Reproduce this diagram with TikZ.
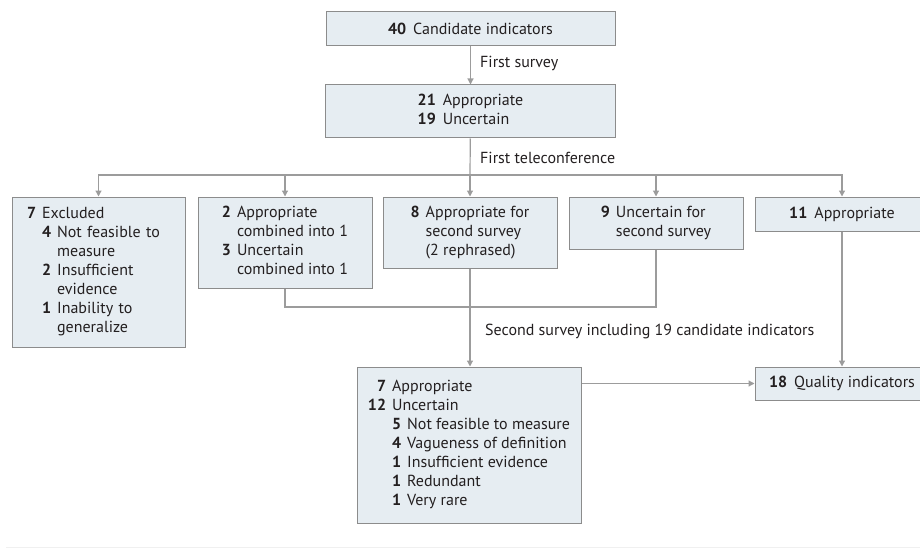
\documentclass[tikz,border=0pt]{standalone}
\usepackage{fontspec}
\setmainfont{PT Sans}
\usetikzlibrary{arrows.meta}
\definecolor{boxfill}{HTML}{E6EDF2}
\definecolor{boxline}{HTML}{8C8C8C}
\definecolor{linkline}{HTML}{9C9C9C}
\definecolor{ink}{HTML}{231F20}
\newcommand\nb[1]{\textbf{#1}}

\begin{document}
\begin{tikzpicture}[
  x=1pt, y=-1pt,
  font=\fontsize{16}{19}\selectfont, text=ink,
  box/.style={draw=boxline, fill=boxfill, line width=1pt, inner sep=0pt, align=center},
  link/.style={draw=linkline, line width=1.2pt},
  arr/.style={link, -{Triangle[length=6pt, width=6pt]}},
  lbl/.style={anchor=west, inner sep=0pt}
]
  \useasboundingbox (0,0) rectangle (920,548);

  \node[box, minimum width=289pt, minimum height=34pt] (cand) at (470.5,29)
    {\nb{40}\hspace{7pt}Candidate indicators};
  \node[box, minimum width=290pt, minimum height=53pt] (first) at (470.5,111.5)
    {\begin{tabular}{@{}r@{\hspace{7pt}}l@{}}\nb{21} & Appropriate\\ \nb{19} & Uncertain\end{tabular}};

  \node[box, minimum width=173pt, minimum height=150pt, text width=163pt, align=left] (excl) at (98.5,272)
    {\hspace*{10pt}\begin{tabular}{@{}r@{\hspace{6pt}}r@{\hspace{6pt}}l@{}}
      \nb{7} & \multicolumn{2}{@{}l@{}}{Excluded}\\
      & \nb{4} & Not feasible to\\
      & & measure\\
      & \nb{2} & Insufficient\\
      & & evidence\\
      & \nb{1} & Inability to\\
      & & generalize
    \end{tabular}};
  \node[box, minimum width=174pt, minimum height=91pt] (comb) at (285,242.5)
    {\begin{tabular}{@{}r@{\hspace{6pt}}l@{}}
      \nb{2} & Appropriate\\ & combined into 1\\
      \nb{3} & Uncertain\\ & combined into 1
    \end{tabular}};
  \node[box, minimum width=174pt, minimum height=71pt] (app8) at (470,232.5)
    {\begin{tabular}{@{}r@{\hspace{6pt}}l@{}}
      \nb{8} & Appropriate for\\ & second survey\\ & (2 rephrased)
    \end{tabular}};
  \node[box, minimum width=174pt, minimum height=52pt] (unc9) at (656,223)
    {\begin{tabular}{@{}r@{\hspace{6pt}}l@{}}
      \nb{9} & Uncertain for\\ & second survey
    \end{tabular}};
  \node[box, minimum width=174pt, minimum height=34pt] (app11) at (842,214)
    {\nb{11}\hspace{7pt}Appropriate};

  \node[box, minimum width=224pt, minimum height=156pt] (second) at (469,445)
    {\begin{tabular}{@{}r@{\hspace{6pt}}r@{\hspace{6pt}}l@{}}
      \nb{7} & \multicolumn{2}{@{}l@{}}{Appropriate}\\
      \nb{12} & \multicolumn{2}{@{}l@{}}{Uncertain}\\
      & \nb{5} & Not feasible to measure\\
      & \nb{4} & Vagueness of definition\\
      & \nb{1} & Insufficient evidence\\
      & \nb{1} & Redundant\\
      & \nb{1} & Very rare
    \end{tabular}};
  \node[box, minimum width=174pt, minimum height=33pt] (qual) at (842,383.5)
    {\nb{18}\hspace{7pt}Quality indicators};

  \coordinate (fork) at (470,175);
  \coordinate (merge) at (470,307);

  \draw[arr] (cand) -- (first);
  \node[lbl] (surv1) at (480,63) {First survey};
  \draw[link] (first) -- (fork);
  \node[lbl] (conf1) at (480,158) {First teleconference};
  \foreach \b in {excl,comb,app8,unc9,app11}
    \draw[arr] (fork) -| (\b.north);

  \draw[link] (comb.south) |- (merge) -| (unc9.south);
  \draw[arr] (app8.south) -- (app8.south |- second.north);
  \node[lbl] (surv2) at (485,331) {Second survey including 19 candidate indicators};
  \draw[arr] (app11) -- (qual);
  \draw[arr] (qual.west -| second.east) -- (qual.west);

  \draw[gray!12, line width=1pt] (6,547) -- (920,547);
\end{tikzpicture}
\end{document}
